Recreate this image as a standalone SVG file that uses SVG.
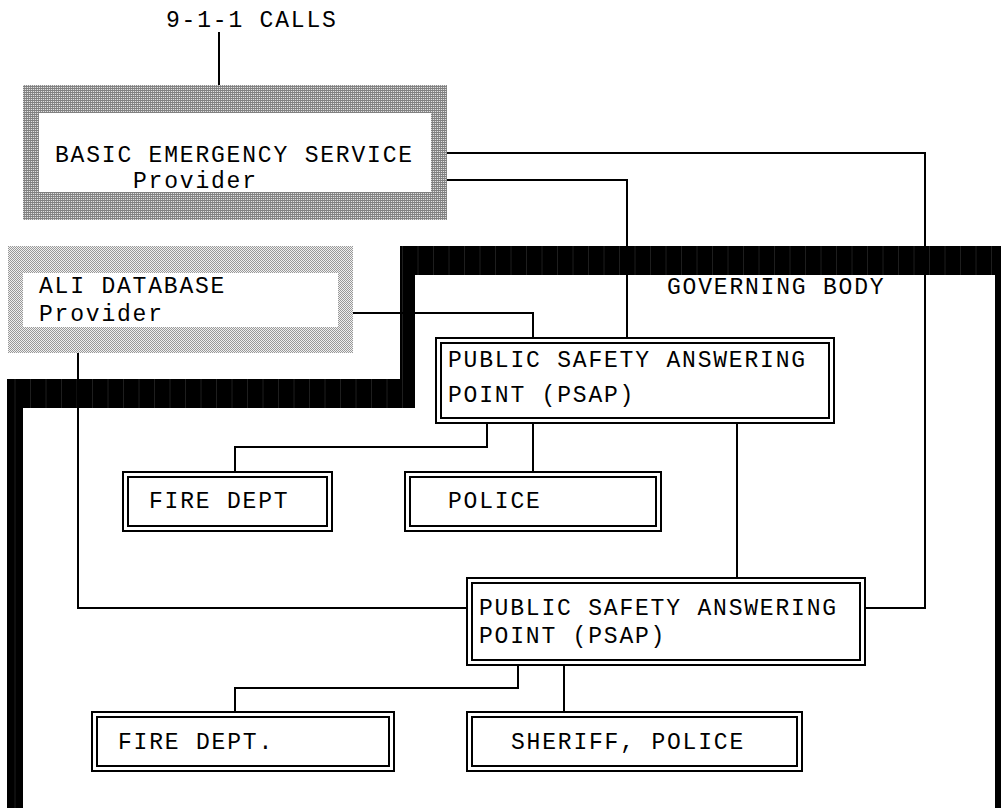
<svg xmlns="http://www.w3.org/2000/svg" width="1001" height="808" viewBox="0 0 1001 808">
<style>
text{font-family:"Courier New","Liberation Mono",monospace;font-size:23px;letter-spacing:1.8px;fill:#000}
.conn{fill:none;stroke:#000;stroke-width:2}
.box{fill:#fff;stroke:#000;stroke-width:2}
.inner{fill:none;stroke:#000;stroke-width:2}
</style>
<defs>
<pattern id="hatch" width="2" height="2" patternUnits="userSpaceOnUse">
<rect width="2" height="2" fill="#e0e0e0"/>
<rect width="2" height="1" fill="#808080"/>
<rect x="0" y="1" width="1" height="1" fill="#909090"/>
</pattern>
<pattern id="dots" width="2" height="2" patternUnits="userSpaceOnUse">
<rect width="2" height="2" fill="#f0f0f0"/>
<rect width="1" height="1" fill="#999"/>
<rect x="1" y="1" width="1" height="1" fill="#999"/>
</pattern>
<pattern id="seams" width="15.5" height="808" patternUnits="userSpaceOnUse">
<rect width="15.5" height="808" fill="#000"/>
<rect x="15" width="0.6" height="808" fill="#3a3a3a"/>
</pattern>
</defs>

<g id="governing-body">
<path d="M7,808 V379 H400 V246 H1001 V808 H995 V275 H415 V408 H23 V808 Z" fill="url(#seams)"/>
<text x="667" y="294">GOVERNING BODY</text>
</g>

<g id="title">
<text x="166" y="27">9-1-1 CALLS</text>
</g>

<g id="connectors">
<path class="conn" d="M219,32 V85"/>
<path class="conn" d="M447,153 H925 V608 H865"/>
<path class="conn" d="M447,180 H627 V338"/>
<path class="conn" d="M353,313 H533 V338"/>
<path class="conn" d="M78,353 V608 H467"/>
<path class="conn" d="M487,423 V447 H235 V472"/>
<path class="conn" d="M533,423 V472"/>
<path class="conn" d="M737,423 V578"/>
<path class="conn" d="M518,665 V688 H235 V712"/>
<path class="conn" d="M564,665 V712"/>
</g>

<g id="bes">
<rect x="23" y="85" width="424" height="135" fill="url(#hatch)"/>
<rect x="39" y="113" width="392" height="79" fill="#fff"/>
<text x="55" y="162">BASIC EMERGENCY SERVICE</text>
<text x="133" y="188">Provider</text>
</g>

<g id="ali">
<rect x="8" y="246" width="345" height="107" fill="url(#dots)"/>
<rect x="23" y="273" width="315" height="54" fill="#fff"/>
<text x="39" y="293">ALI DATABASE</text>
<text x="39" y="321">Provider</text>
</g>

<g id="psap1">
<rect class="box" x="436" y="338" width="398" height="85"/>
<rect class="inner" x="441" y="343" width="388" height="75"/>
<text x="448" y="367">PUBLIC SAFETY ANSWERING</text>
<text x="448" y="402">POINT (PSAP)</text>
</g>

<g id="fire1">
<rect class="box" x="123" y="472" width="209" height="59"/>
<rect class="inner" x="128" y="477" width="199" height="49"/>
<text x="149" y="508">FIRE DEPT</text>
</g>

<g id="police1">
<rect class="box" x="405" y="472" width="256" height="59"/>
<rect class="inner" x="410" y="477" width="246" height="49"/>
<text x="448" y="508">POLICE</text>
</g>

<g id="psap2">
<rect class="box" x="467" y="578" width="398" height="87"/>
<rect class="inner" x="472" y="583" width="388" height="77"/>
<text x="479" y="615">PUBLIC SAFETY ANSWERING</text>
<text x="479" y="643">POINT (PSAP)</text>
</g>

<g id="fire2">
<rect class="box" x="92" y="712" width="302" height="59"/>
<rect class="inner" x="97" y="717" width="292" height="49"/>
<text x="118" y="749">FIRE DEPT.</text>
</g>

<g id="sheriff">
<rect class="box" x="467" y="712" width="335" height="59"/>
<rect class="inner" x="472" y="717" width="325" height="49"/>
<text x="511" y="749">SHERIFF, POLICE</text>
</g>
</svg>
